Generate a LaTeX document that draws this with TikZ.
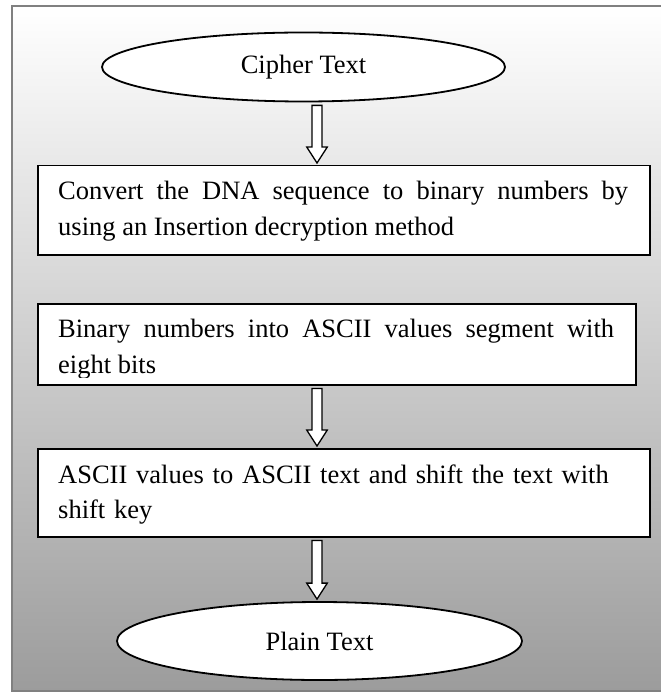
\documentclass[tikz,border=0pt]{standalone}
\usepackage{fontspec}
\setmainfont{Liberation Serif}
\usetikzlibrary{calc,shapes.geometric}
\definecolor{frameGray}{RGB}{128,128,128}
\definecolor{shadeGray}{RGB}{156,156,156}
\hyphenpenalty=10000
\tolerance=9999

% hollow block arrow between two nodes, kept on the (col) line
\newcommand\flowarrow[2]{%
  \draw[line width=1.3pt,fill=white]
    ($(#1.south -| col)+(-5,3)$) -- ($(#2.north -| col)+(-5,-18)$) -- ++(-5.3,0)
    -- ($(#2.north -| col)+(0,-2)$) -- ($(#2.north -| col)+(10.3,-18)$) -- ++(-5.3,0)
    -- ($(#1.south -| col)+(5,3)$) -- cycle;}

\begin{document}
\begin{tikzpicture}[x=1pt,y=-1pt,
  stepbox/.style={draw,line width=1.5pt,fill=white,anchor=north west,inner sep=0pt},
  steptext/.style={anchor=base west,inner sep=0pt,text width=#1,font=\fontsize{26.5}{35.5}\selectfont},
  terminal/.style={ellipse,draw,line width=1.8pt,fill=white,inner sep=0pt,font=\fontsize{26.5}{35.5}\selectfont}]
\useasboundingbox (0,0) rectangle (660,692);
% frame with grey fade
\shadedraw[top color=white,bottom color=shadeGray,draw=frameGray,line width=2.3pt] (12,6) rectangle (664,691);
\coordinate (col) at (317,0);

\node[terminal,minimum width=403pt,minimum height=69pt] (cipher) at (303.5,67) {Cipher Text};

\node[stepbox,minimum width=612pt,minimum height=89pt] (convert) at (37,165) {};
\node[steptext=570pt,align=justify] (convertTxt) at ($(convert.north west)+(21,35)$)
  {Convert the DNA sequence to binary numbers by using an Insertion decryption method};

\node[stepbox,minimum width=598pt,minimum height=81pt] (binary) at (37,303) {};
\begin{scope}
  \clip (binary.north west) rectangle ($(binary.south east)+(0,-8)$);
  \node[steptext=556pt,align=justify] (binaryTxt) at ($(binary.north west)+(21,34.5)$)
    {Binary numbers into ASCII values segment with eight bits};
\end{scope}

\node[stepbox,minimum width=612pt,minimum height=88pt] (ascii) at (37,448) {};
\node[steptext=570pt,align=left] (asciiTxt) at ($(ascii.north west)+(21,35)$)
  {ASCII values to ASCII text and shift the text with shift key};

\node[terminal,minimum width=405pt,minimum height=78pt] (plain) at (319.5,641) {Plain Text};

\flowarrow{cipher}{convert}
\flowarrow{binary}{ascii}
\flowarrow{ascii}{plain}
\end{tikzpicture}
\end{document}
